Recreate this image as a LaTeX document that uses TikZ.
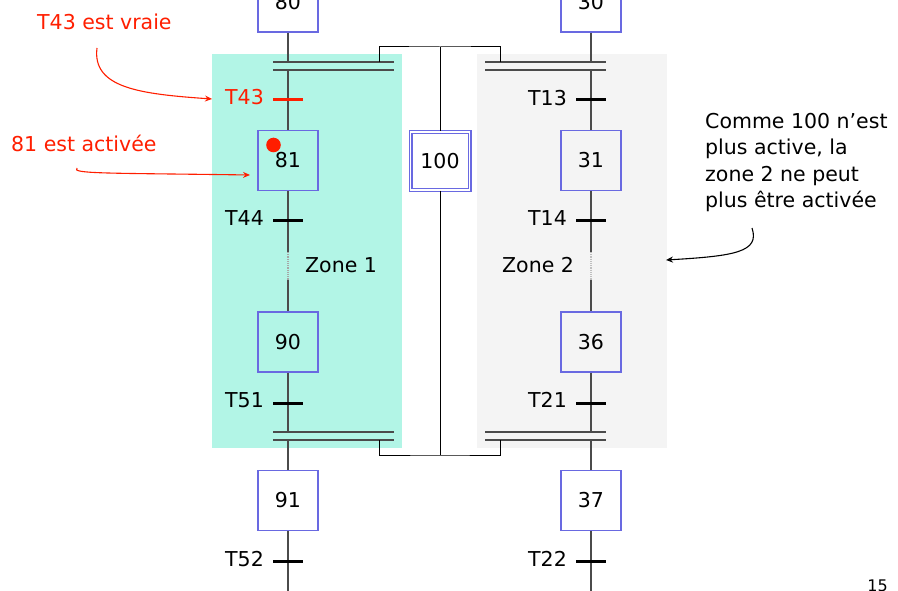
\documentclass[tikz,border=0pt]{standalone}
\usepackage{fontspec}
\setmainfont{DejaVu Sans}
\usetikzlibrary{arrows.meta}
\definecolor{zoneA}{RGB}{178,245,230}
\definecolor{zoneB}{RGB}{244,244,244}
\definecolor{stepblue}{RGB}{105,105,225}
\definecolor{annred}{RGB}{255,30,0}
\definecolor{wire}{RGB}{75,75,75}
\begin{document}
\begin{tikzpicture}[x=1pt,y=-1pt,
  txt/.style={font=\fontsize{20.5}{24}\selectfont},
  stepbox/.style={draw=stepblue, line width=1.1pt, minimum width=60pt, minimum height=60pt, inner sep=0pt, txt},
  initbox/.style={draw=stepblue, line width=1.1pt, double=white, double distance=1.8pt, minimum width=59pt, minimum height=58pt, inner sep=0pt, txt},
  tlabel/.style={anchor=east, inner sep=0pt, txt},
  zlabel/.style={anchor=west, inner sep=0pt, txt},
  tbar/.style={line width=3pt},
  link/.style={draw=wire, line width=1.2pt},
  sync/.style={draw=wire, line width=1.3pt},
  wire100/.style={draw=black, line width=1pt},
  annarrow/.style={line width=1.1pt, -{Stealth[length=7pt,width=6pt]}},
]
\useasboundingbox (0,0) rectangle (898,591);
\clip (0,0) rectangle (898,591);
% zones
\fill[zoneA] (212,54) rectangle (402,448);
\fill[zoneB] (477,54) rectangle (667,448);

% steps
\node[stepbox] (s80) at (288,2) {80};
\node[stepbox] (s30) at (591,2) {30};
\node[stepbox] (s81) at (288,160.5) {81};
\node[stepbox] (s31) at (591,160.5) {31};
\node[initbox] (s100) at (440,161) {100};
\node[stepbox] (s90) at (288,342) {90};
\node[stepbox] (s36) at (591,342) {36};
\node[stepbox] (s91) at (288,500.5) {91};
\node[stepbox] (s37) at (591,500.5) {37};

% coordinates of double bars
\coordinate (LT1) at (288,62);  \coordinate (LT2) at (288,70);
\coordinate (RT1) at (591,62);  \coordinate (RT2) at (591,70);
\coordinate (LB1) at (288,432); \coordinate (LB2) at (288,440);
\coordinate (RB1) at (591,432); \coordinate (RB2) at (591,440);
\coordinate (LTc) at (379,62);  \coordinate (RTc) at (500,62);
\coordinate (LBc) at (379,440); \coordinate (RBc) at (500,440);
\coordinate (topJ) at (440,47); \coordinate (botJ) at (440,455);
% transitions
\coordinate (t43) at (288,100); \coordinate (t13) at (591,100);
\coordinate (t44) at (288,221); \coordinate (t14) at (591,221);
\coordinate (t51) at (288,403); \coordinate (t21) at (591,403);
\coordinate (t52) at (288,561); \coordinate (t22) at (591,561);
\coordinate (dL1) at (288,252); \coordinate (dL2) at (288,280);
\coordinate (dR1) at (591,252); \coordinate (dR2) at (591,280);
\coordinate (endL) at (288,595); \coordinate (endR) at (591,595);

% vertical links
\draw[link] (s80) -- (LT1);
\draw[link] (s30) -- (RT1);
\draw[link] (LT2) -- (s81);
\draw[link] (RT2) -- (s31);
\draw[link] (s81) -- (dL1);
\draw[link] (s31) -- (dR1);
\draw[draw=gray!70, line width=1.2pt, densely dotted] (dL1) -- (dL2);
\draw[draw=gray!50, line width=1.2pt, densely dotted] (dR1) -- (dR2);
\draw[link] (dL2) -- (s90);
\draw[link] (dR2) -- (s36);
\draw[link] (s90) -- (LB1);
\draw[link] (s36) -- (RB1);
\draw[link] (LB2) -- (s91);
\draw[link] (RB2) -- (s37);
\draw[link] (s91) -- (endL);
\draw[link] (s37) -- (endR);

% double bars
\draw[sync] ([xshift=-15pt]LT1) -- ([xshift=106pt]LT1);
\draw[sync] ([xshift=-15pt]LT2) -- ([xshift=106pt]LT2);
\draw[sync] ([xshift=-106pt]RT1) -- ([xshift=15pt]RT1);
\draw[sync] ([xshift=-106pt]RT2) -- ([xshift=15pt]RT2);
\draw[sync] ([xshift=-15pt]LB1) -- ([xshift=106pt]LB1);
\draw[sync] ([xshift=-15pt]LB2) -- ([xshift=106pt]LB2);
\draw[sync] ([xshift=-106pt]RB1) -- ([xshift=15pt]RB1);
\draw[sync] ([xshift=-106pt]RB2) -- ([xshift=15pt]RB2);

% links of step 100
\draw[wire100] (LTc) |- (topJ) -| (RTc);
\draw[wire100] (topJ) -- (s100);
\draw[wire100] (LBc) |- (botJ) -| (RBc);
\draw[wire100] (s100) -- (botJ);

% transition bars
\draw[tbar, annred] ([xshift=-15pt]t43) -- ([xshift=15pt]t43);
\foreach \t in {t13,t44,t14,t51,t21,t52,t22}
  \draw[tbar] ([xshift=-15pt]\t) -- ([xshift=15pt]\t);

% transition labels
\node[tlabel, text=annred] (lt43) at (264,97) {T43};
\node[tlabel] (lt13) at (567,98) {T13};
\node[tlabel] (lt44) at (264,218) {T44};
\node[tlabel] (lt14) at (567,218) {T14};
\node[tlabel] (lt51) at (264,400) {T51};
\node[tlabel] (lt21) at (567,400) {T21};
\node[tlabel] (lt52) at (264,559) {T52};
\node[tlabel] (lt22) at (567,559) {T22};

\node[zlabel] (z1) at (305,265) {Zone 1};
\node[zlabel] (z2) at (502,265) {Zone 2};

% active token
\fill[annred] (273.5,145) circle (7.3pt);

% annotations
\node[zlabel, text=annred] (n1) at (37,22) {T43 est vraie};
\node[zlabel, text=annred] (n2) at (11,143) {81 est activée};
\node[anchor=north west, inner sep=0pt, align=left, font=\fontsize{20.5}{26.5}\selectfont] (n3) at (705,113)
  {Comme 100 n’est\\plus active, la\\zone 2 ne peut\\plus être activée};
\node[anchor=north east, inner sep=0pt, font=\fontsize{16}{18}\selectfont] (pg) at (888,580) {15};

\coordinate (a1s) at (97,48);   \coordinate (a1e) at (212,99);
\coordinate (a2s) at (77,168);  \coordinate (a2e) at (250,175);
\coordinate (a3s) at (752,228); \coordinate (a3e) at (666,260);
\draw[annarrow, annred] (a1s) .. controls (92,88) and (140,94) .. (a1e);
\draw[annarrow, annred] (a2s) .. controls (70,174) and (110,173) .. (a2e);
\draw[annarrow, black] (a3s) .. controls (760,252) and (735,256) .. (a3e);
\end{tikzpicture}
\end{document}
